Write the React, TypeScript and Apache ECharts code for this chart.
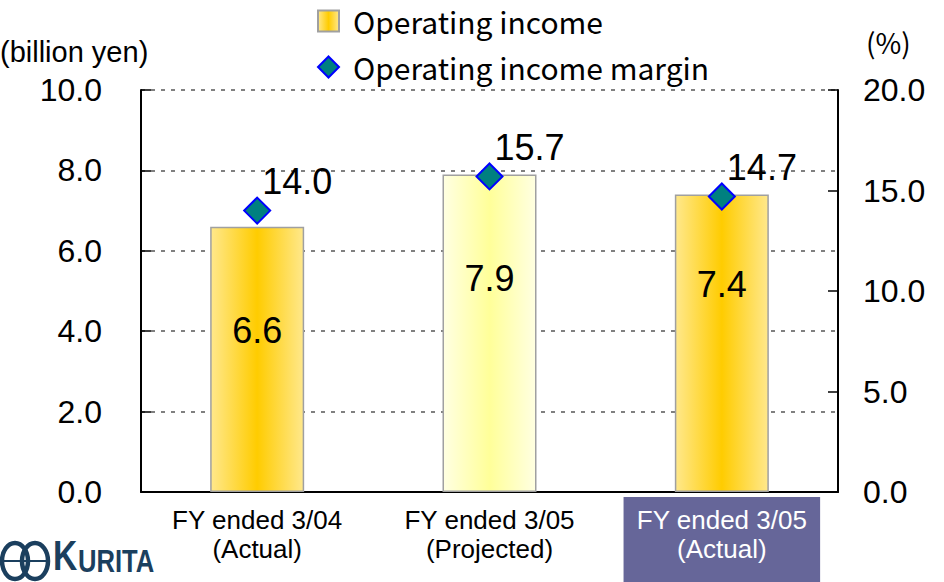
import React, { useEffect, useRef } from "react";
import * as echarts from "echarts";

const categories = ["FY ended 3/04\n(Actual)", "FY ended 3/05\n(Projected)", "FY ended 3/05\n(Actual)"];
const operatingIncome = [6.6, 7.9, 7.4];
const operatingMargin = [14.0, 15.7, 14.7];
const leftTicks = { min: 0, max: 10, interval: 2 };
const rightTicks = { min: 0, max: 20, interval: 5 };
const highlightIndex = 2;
const projectedIndex = 1;
const barLabelDistance = [86, 86, 72];

const ARIAL = "'Liberation Sans', Arial, sans-serif";
const GOTHIC = "'Noto Sans CJK JP', 'Noto Sans', sans-serif";
const NAVY = "#1b3f5e";

export default function App() {
  const ref = useRef<HTMLDivElement>(null);
  useEffect(() => {
    if (!ref.current) return;
    const chart = echarts.init(ref.current, undefined, { renderer: "svg" });
    const gold = new echarts.graphic.LinearGradient(0, 0, 1, 0, [
      { offset: 0, color: "#FFE88C" },
      { offset: 0.5, color: "#FFCC00" },
      { offset: 1, color: "#FFE88C" },
    ]);
    const pale = new echarts.graphic.LinearGradient(0, 0, 1, 0, [
      { offset: 0, color: "#FFFFE2" },
      { offset: 0.5, color: "#FFFF99" },
      { offset: 1, color: "#FFFFE2" },
    ]);
    const catData = categories.map((c, i) =>
      i === highlightIndex
        ? { value: c, textStyle: { color: "#FFFFFF", backgroundColor: "#666699" } }
        : { value: c }
    );
    const barData = operatingIncome.map((v, i) => {
      const item: any = { value: v, label: { distance: barLabelDistance[i] } };
      if (i === projectedIndex) item.itemStyle = { color: pale };
      return item;
    });
    chart.setOption({
      animation: false,
      grid: { left: 141, right: 106, top: 90, bottom: 90, containLabel: false, outerBoundsMode: "none" },
      legend: {
        orient: "vertical",
        left: 317,
        top: 6,
        padding: 0,
        itemWidth: 21,
        itemHeight: 21,
        itemGap: 16,
        textStyle: { fontSize: 30, color: "#000", fontFamily: GOTHIC, padding: [0, 0, 0, 9] },
        data: [
          { name: "Operating income", icon: "rect" },
          { name: "Operating income margin", icon: "diamond" },
        ],
      },
      xAxis: {
        type: "category",
        data: catData,
        axisLine: { lineStyle: { color: "#000", width: 2 } },
        axisTick: { inside: true, length: 10, lineStyle: { color: "#000", width: 1.5 } },
        axisLabel: {
          interval: 0,
          margin: 5,
          fontSize: 26,
          lineHeight: 29,
          fontFamily: ARIAL,
          color: "#000",
          padding: [8, 13, 40, 13],
        },
      },
      yAxis: [
        {
          type: "value",
          ...leftTicks,
          axisLine: { show: true, lineStyle: { color: "#000", width: 2 } },
          axisTick: { show: true, inside: true, length: 10, lineStyle: { color: "#000", width: 1.5 } },
          axisLabel: {
            margin: 39,
            fontSize: 32,
            fontFamily: ARIAL,
            color: "#000",
            formatter: (v: number) => v.toFixed(1),
          },
          splitLine: { show: true, lineStyle: { color: "#808080", width: 2, type: [4, 6] } },
        },
        {
          type: "value",
          ...rightTicks,
          position: "right",
          axisLine: { show: true, lineStyle: { color: "#000", width: 2 } },
          axisTick: { show: true, inside: true, length: 10, lineStyle: { color: "#000", width: 1.5 } },
          axisLabel: {
            margin: 25,
            fontSize: 32,
            fontFamily: ARIAL,
            color: "#000",
            formatter: (v: number) => v.toFixed(1),
          },
          splitLine: { show: false },
        },
      ],
      series: [
        {
          name: "Operating income",
          type: "bar",
          yAxisIndex: 0,
          barWidth: 94,
          data: barData,
          itemStyle: { color: gold, borderColor: "#A0A0A0", borderWidth: 1.5 },
          label: {
            show: true,
            position: "insideTop",
            distance: 84,
            fontSize: 36,
            fontFamily: ARIAL,
            color: "#000",
            formatter: (p: any) => Number(p.value).toFixed(1),
          },
          z: 2,
        },
        {
          name: "Operating income margin",
          type: "scatter",
          yAxisIndex: 1,
          symbol: "diamond",
          symbolSize: 26,
          data: operatingMargin,
          itemStyle: { color: "#008080", borderColor: "#0000FF", borderWidth: 2, opacity: 1 },
          label: {
            show: true,
            position: [19, -33],
            fontSize: 36,
            fontFamily: ARIAL,
            color: "#000",
            formatter: (p: any) => Number(p.value).toFixed(1),
          },
          z: 3,
        },
      ],
      graphic: [
        {
          type: "text",
          left: 0,
          top: 37,
          style: { text: "(billion yen)", fontSize: 29, fontFamily: ARIAL, fill: "#000" },
        },
        {
          type: "text",
          left: 866,
          top: 28,
          style: { text: "(%)", fontSize: 28, fontFamily: GOTHIC, fill: "#000" },
        },
        { type: "ellipse", shape: { cx: 15, cy: 561, rx: 13, ry: 18 }, style: { fill: "none", stroke: NAVY, lineWidth: 4.5 } },
        { type: "ellipse", shape: { cx: 35, cy: 561, rx: 13, ry: 18 }, style: { fill: "none", stroke: NAVY, lineWidth: 4.5 } },
        { type: "line", shape: { x1: 2, y1: 561, x2: 48, y2: 561 }, style: { stroke: NAVY, lineWidth: 2 } },
        {
          type: "text",
          x: 53,
          y: 556,
          scaleX: 0.8,
          style: {
            text: "K",
            fontSize: 42,
            lineHeight: 30,
            fontWeight: "bold",
            fontFamily: ARIAL,
            fill: NAVY,
            verticalAlign: "middle",
          },
        },
        {
          type: "text",
          x: 78,
          y: 561,
          scaleX: 0.8,
          style: {
            text: "URITA",
            fontSize: 32,
            lineHeight: 24,
            fontWeight: "bold",
            fontFamily: ARIAL,
            fill: NAVY,
            verticalAlign: "middle",
          },
        },
      ],
    });
    return () => chart.dispose();
  }, []);
  return (
    <div
      ref={ref}
      style={{ position: "absolute", left: 0, top: 0, width: 944, height: 582, overflow: "hidden", background: "#fff" }}
    />
  );
}
